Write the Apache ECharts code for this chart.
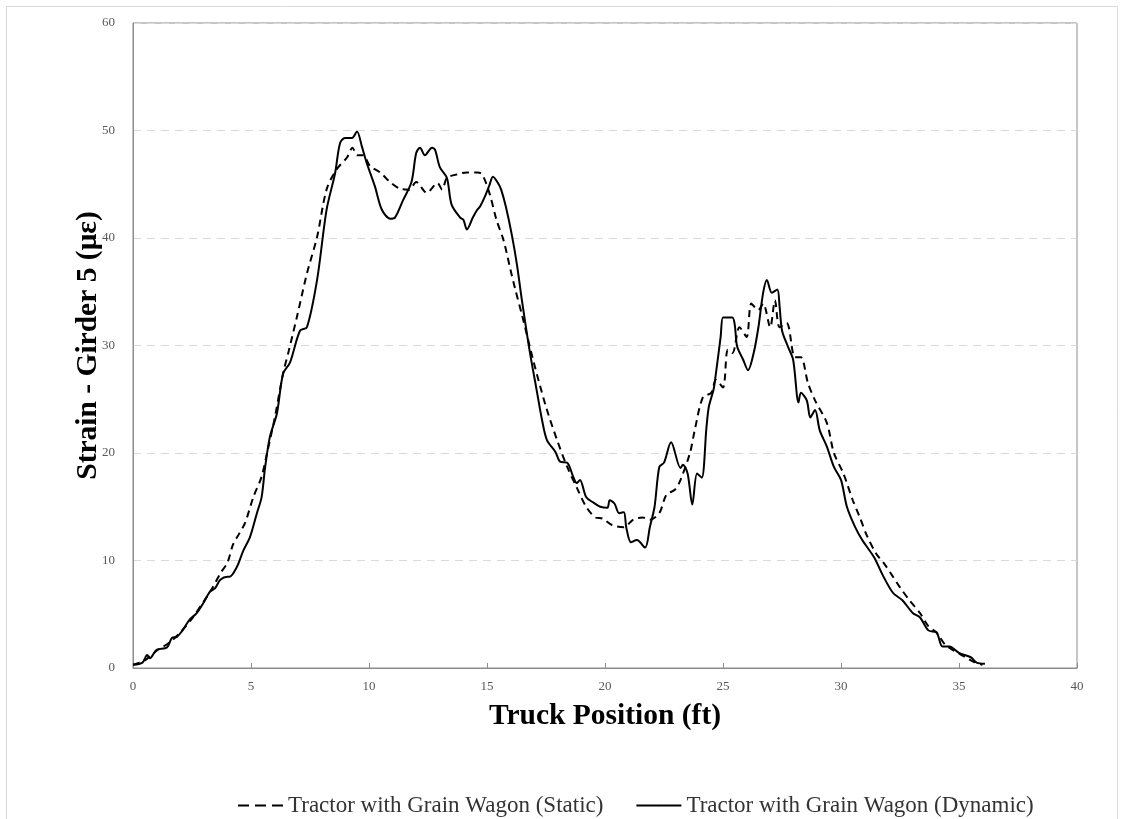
<!DOCTYPE html>
<html>
<head>
<meta charset="utf-8">
<script src="https://cdn.jsdelivr.net/npm/echarts@6/dist/echarts.min.js"></script>
<style>
  html, body { margin: 0; padding: 0; background: #fff; }
  #chart { width: 1123px; height: 819px; }
</style>
</head>
<body>
<div id="chart"></div>
<script>
// truck position (ft) and strain (µε)
const staticPos = [0, 0.5, 1.0, 1.5, 2.0, 2.5, 3.0, 3.3, 3.7, 4.0, 4.24, 4.5, 4.75, 5.1, 5.45, 5.7, 6.0, 6.36, 6.6, 6.95, 7.37, 7.8, 8.2, 8.6, 9.07, 9.3, 9.5, 9.75, 10.04, 10.47, 10.9, 11.3, 11.7, 12.0, 12.45, 12.9, 13.1, 13.3, 13.7, 14.15, 14.6, 14.8, 15.1, 15.4, 15.7, 16.0, 16.2, 16.5, 16.95, 17.5, 17.97, 18.4, 18.8, 19.2, 19.6, 19.9, 20.3, 20.8, 21.2, 21.6, 21.9, 22.3, 22.6, 22.97, 23.2, 23.6, 23.8, 24.15, 24.5, 24.7, 25.0, 25.2, 25.4, 25.7, 26.0, 26.2, 26.5, 26.7, 27.0, 27.2, 27.4, 27.7, 28.05, 28.3, 28.6, 28.9, 29.4, 29.7, 30.1, 30.5, 30.8, 31.1, 31.5, 31.8, 32.2, 32.5, 32.9, 33.35, 33.7, 34.05, 34.4, 34.8, 35.2, 35.6, 36.0];
const staticStrain = [0.3, 0.7, 1.6, 2.3, 3.3, 4.6, 6.2, 7.2, 8.8, 9.8, 11.5, 12.5, 13.5, 15.9, 17.8, 20.2, 23.2, 27.4, 29.5, 32.7, 36.7, 40.1, 44.5, 46.3, 47.5, 48.4, 47.7, 47.7, 46.7, 46.1, 45.2, 44.6, 44.5, 45.2, 44.2, 45.1, 44.5, 45.6, 45.9, 46.1, 46.1, 45.9, 44.2, 41.7, 39.8, 37.0, 35.2, 32.7, 28.7, 24.3, 21.2, 18.7, 16.8, 15.0, 14.0, 13.9, 13.3, 13.1, 13.8, 14.0, 13.8, 14.4, 16.1, 16.6, 17.5, 20.0, 22.1, 25.2, 25.6, 26.8, 26.1, 29.6, 29.3, 31.7, 30.8, 33.9, 33.3, 33.9, 31.7, 34.2, 31.7, 32.1, 28.9, 28.9, 26.5, 24.9, 22.8, 20.0, 18.1, 15.6, 14.0, 12.3, 10.6, 9.8, 8.5, 7.5, 6.3, 5.1, 3.9, 3.3, 2.2, 1.6, 1.1, 0.6, 0.3];

const dynamicPos = [0, 0.4, 0.6, 0.72, 1.0, 1.44, 1.65, 1.86, 2.1, 2.4, 2.7, 2.97, 3.26, 3.47, 3.7, 4.0, 4.1, 4.4, 4.67, 4.96, 5.25, 5.45, 5.6, 5.8, 6.1, 6.36, 6.65, 7.08, 7.37, 7.8, 8.2, 8.56, 8.77, 8.98, 9.28, 9.49, 9.7, 9.9, 10.25, 10.55, 10.9, 11.1, 11.44, 11.8, 12.0, 12.16, 12.37, 12.67, 12.8, 13.0, 13.3, 13.5, 13.86, 14.0, 14.15, 14.4, 14.58, 14.7, 14.9, 15.1, 15.25, 15.47, 15.6, 15.8, 16.06, 16.27, 16.48, 16.8, 17.1, 17.33, 17.54, 17.9, 18.1, 18.4, 18.65, 18.8, 18.94, 19.2, 19.5, 19.8, 20.1, 20.2, 20.4, 20.6, 20.8, 20.9, 21.1, 21.35, 21.7, 21.9, 22.1, 22.3, 22.5, 22.8, 23.2, 23.3, 23.5, 23.7, 23.9, 24.1, 24.3, 24.4, 24.6, 24.7, 24.9, 25.0, 25.2, 25.4, 25.5, 25.6, 25.85, 26.06, 26.3, 26.5, 26.7, 26.86, 27.07, 27.3, 27.4, 27.5, 27.75, 27.97, 28.2, 28.3, 28.55, 28.7, 28.9, 29.1, 29.4, 29.7, 30.0, 30.25, 30.6, 30.9, 31.4, 31.8, 32.2, 32.6, 33.05, 33.35, 33.7, 34.05, 34.3, 34.6, 35.0, 35.5, 35.75, 36.1];
const dynamicStrain = [0.3, 0.5, 1.2, 0.9, 1.7, 1.9, 2.8, 2.9, 3.5, 4.5, 5.1, 6.0, 7.1, 7.4, 8.2, 8.5, 8.5, 9.4, 10.9, 12.2, 14.4, 15.9, 18.7, 21.5, 23.7, 27.4, 28.4, 31.4, 31.7, 36.1, 42.6, 46.0, 48.8, 49.3, 49.3, 49.9, 48.5, 47.0, 44.8, 42.6, 41.8, 41.9, 43.5, 45.2, 47.9, 48.4, 47.7, 48.4, 48.2, 46.6, 45.6, 43.1, 41.9, 41.7, 40.8, 41.9, 42.6, 42.9, 43.8, 44.9, 45.7, 45.1, 44.5, 42.9, 40.2, 37.5, 34.2, 29.6, 25.9, 23.1, 21.2, 20.1, 19.2, 19.1, 17.8, 17.2, 17.5, 15.9, 15.4, 15.0, 14.9, 15.6, 15.3, 14.4, 14.5, 13.1, 11.7, 11.9, 11.2, 13.1, 15.0, 18.7, 19.1, 21.0, 18.6, 18.9, 18.1, 15.2, 18.1, 17.7, 22.4, 24.3, 25.9, 27.4, 30.8, 32.6, 32.6, 32.6, 31.9, 29.9, 28.7, 27.7, 29.3, 31.7, 34.9, 36.1, 34.9, 35.2, 33.6, 31.4, 29.9, 28.7, 24.7, 25.6, 24.9, 23.3, 24.0, 22.1, 20.6, 18.7, 17.5, 15.0, 13.1, 11.9, 10.3, 8.5, 7.0, 6.3, 5.1, 4.7, 3.5, 3.3, 2.0, 2.0, 1.4, 1.0, 0.5, 0.4];

const seriesNames = ['Tractor with Grain Wagon (Static)', 'Tractor with Grain Wagon (Dynamic)'];

const serif = '"Liberation Serif", "Times New Roman", serif';

function pairs (xs, ys) {
  return xs.map((x, i) => [x, ys[i]]);
}

const chart = echarts.init(document.getElementById('chart'));

const option = {
  backgroundColor: '#fff',
  animation: false,
  graphic: [
    {
      type: 'rect',
      shape: { x: 6.5, y: 6.5, width: 1111, height: 830 },
      style: { fill: 'none', stroke: '#d9d9d9', lineWidth: 1 },
      silent: true,
      z: -1
    }
  ],
  grid: {
    left: 133,
    right: 46,
    top: 23,
    bottom: 151,
    show: true,
    borderColor: '#8c8c8c',
    borderWidth: 1
  },
  legend: {
    data: [
      { name: seriesNames[0], lineStyle: { type: [11, 6] } },
      { name: seriesNames[1] }
    ],
    left: 232,
    top: 789,
    itemWidth: 45,
    itemHeight: 2,
    itemGap: 32,
    textStyle: { fontFamily: serif, fontSize: 23, color: '#333' }
  },
  xAxis: {
    type: 'value',
    min: 0,
    max: 40,
    interval: 5,
    name: 'Truck Position (ft)',
    nameLocation: 'middle',
    nameGap: 33,
    nameTextStyle: { fontFamily: serif, fontSize: 29.5, fontWeight: 'bold', color: '#000' },
    axisLine: { show: true, lineStyle: { color: '#8c8c8c', width: 1 } },
    axisTick: { show: true, inside: true, length: 5, lineStyle: { color: '#8c8c8c' } },
    axisLabel: { fontFamily: serif, fontSize: 13, color: '#595959', margin: 12 },
    splitLine: { show: false }
  },
  yAxis: {
    type: 'value',
    min: 0,
    max: 60,
    interval: 10,
    name: 'Strain - Girder 5 (με)',
    nameLocation: 'middle',
    nameGap: 30,
    nameRotate: 90,
    nameMoveOverlap: false,
    nameTextStyle: { fontFamily: serif, fontSize: 29.5, fontWeight: 'bold', color: '#000' },
    axisLine: { show: true, lineStyle: { color: '#8c8c8c', width: 1 } },
    axisTick: { show: false },
    axisLabel: { fontFamily: serif, fontSize: 13, color: '#595959', margin: 18 },
    splitLine: { show: true, lineStyle: { color: '#d9d9d9', type: [8, 6], width: 1 } }
  },
  series: [
    {
      name: seriesNames[0],
      type: 'line',
      data: pairs(staticPos, staticStrain),
      showSymbol: false,
      symbol: 'none',
      smooth: 0.3,
      lineStyle: { color: '#000', width: 2, type: [7, 5] },
      itemStyle: { color: '#000' }
    },
    {
      name: seriesNames[1],
      type: 'line',
      data: pairs(dynamicPos, dynamicStrain),
      showSymbol: false,
      symbol: 'none',
      smooth: 0.3,
      lineStyle: { color: '#000', width: 2 },
      itemStyle: { color: '#000' }
    }
  ]
};

chart.setOption(option);
</script>
</body>
</html>
